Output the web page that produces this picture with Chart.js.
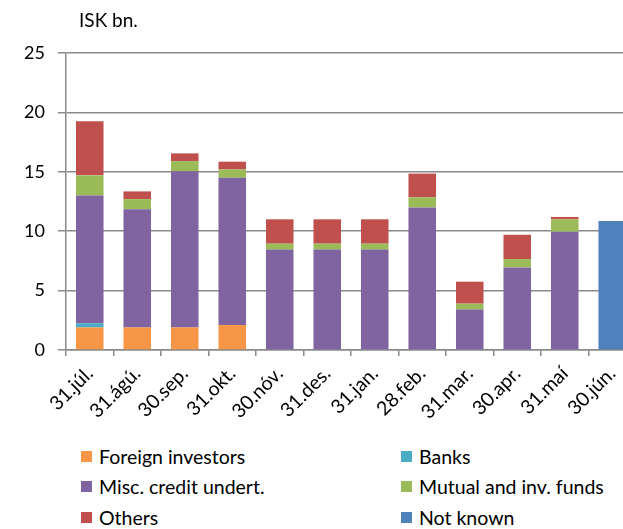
<!DOCTYPE html>
<html>
<head>
<meta charset="utf-8">
<script src="https://cdn.jsdelivr.net/npm/chart.js@4.4.1/dist/chart.umd.min.js"></script>
<style>
  html, body { margin: 0; padding: 0; background: #fff; overflow: hidden; }
  body { width: 623px; height: 529px; position: relative; font-family: Lato, "Open Sans", sans-serif; color: #000; }
  #wrap { position: absolute; left: 0; top: 0; width: 646px; height: 440px; }
  #unit { position: absolute; left: 79px; top: 8px; font-size: 19px; line-height: 24px; }
  .lg { position: absolute; font-size: 19.5px; line-height: 24px; white-space: nowrap; }
  .lg i { position: absolute; left: 0; top: 6px; width: 11px; height: 11px; }
  .lg span { position: absolute; left: 18px; top: 0; }
</style>
</head>
<body>
<div id="wrap"><canvas id="c" width="646" height="440"></canvas></div>
<div id="unit">ISK bn.</div>
<div id="legend"></div>
<script>
// Month-end dates
const categories = ['31.júl.', '31.ágú.', '30.sep.', '31.okt.', '30.nóv.', '31.des.',
                    '31.jan.', '28.feb.', '31.mar.', '30.apr.', '31.maí', '30.jún.'];

// Holdings by investor group, ISK bn.
const foreignInvestors = [1.9, 1.9, 1.9, 2.1, 0, 0, 0, 0, 0, 0, 0, 0];
const banks            = [0.35, 0, 0, 0, 0, 0, 0, 0, 0, 0, 0, 0];
const miscCredit       = [10.75, 9.95, 13.15, 12.4, 8.45, 8.45, 8.45, 12.0, 3.4, 6.95, 9.95, 0];
const mutualFunds      = [1.7, 0.85, 0.85, 0.7, 0.5, 0.5, 0.5, 0.85, 0.5, 0.7, 1.05, 0];
const others           = [4.55, 0.65, 0.65, 0.65, 2.05, 2.05, 2.05, 2.0, 1.85, 2.05, 0.2, 0];
const notKnown         = [0, 0, 0, 0, 0, 0, 0, 0, 0, 0, 0, 10.85];

const yTicks = [0, 5, 10, 15, 20, 25];

const series = [
  { label: 'Foreign investors',      data: foreignInvestors, color: '#F79646' },
  { label: 'Banks',                  data: banks,            color: '#4BACC6' },
  { label: 'Misc. credit undert.',   data: miscCredit,       color: '#8064A2' },
  { label: 'Mutual and inv. funds',  data: mutualFunds,      color: '#9BBB59' },
  { label: 'Others',                 data: others,           color: '#C0504D' },
  { label: 'Not known',              data: notKnown,         color: '#4F81BD' }
];

const gridColor = '#8a8a8a';
const family = 'Lato, "Open Sans", sans-serif';

new Chart(document.getElementById('c'), {
  type: 'bar',
  data: {
    labels: categories,
    datasets: series.map(s => ({
      label: s.label,
      data: s.data,
      backgroundColor: s.color,
      borderWidth: 0,
      categoryPercentage: 1,
      barPercentage: 0.58,
      stack: 'all'
    }))
  },
  options: {
    responsive: false,
    animation: false,
    layout: { padding: { left: 0, right: 10, top: 53, bottom: 0 } },
    plugins: { legend: { display: false }, tooltip: { enabled: false } },
    scales: {
      x: {
        stacked: true,
        grid: { display: true, drawOnChartArea: false, drawTicks: true, tickLength: 6, color: gridColor, lineWidth: 1.5, offset: true },
        border: { color: gridColor, width: 1.5 },
        ticks: { font: { family, size: 19.5 }, color: '#000', maxRotation: 45, minRotation: 45, padding: 6, autoSkip: false },
        afterFit: s => { s.height = 90; }
      },
      y: {
        stacked: true,
        min: 0, max: 25,
        afterBuildTicks: s => { s.ticks = yTicks.map(v => ({ value: v })); },
        grid: { color: gridColor, lineWidth: 1.5, tickLength: 8 },
        border: { color: gridColor, width: 1.5 },
        ticks: { font: { family, size: 18 }, color: '#000', padding: 13 },
        afterFit: s => { s.width = 66; }
      }
    }
  }
});

// Two-column legend below the plot
const legend = document.getElementById('legend');
const colX = [81, 401];
const rowY = [444.5, 475, 506];
series.forEach((s, i) => {
  const d = document.createElement('div');
  d.className = 'lg';
  d.style.left = colX[i % 2] + 'px';
  d.style.top = rowY[Math.floor(i / 2)] + 'px';
  d.innerHTML = '<i style="background:' + s.color + '"></i><span></span>';
  d.querySelector('span').textContent = s.label;
  legend.appendChild(d);
});
</script>
</body>
</html>
